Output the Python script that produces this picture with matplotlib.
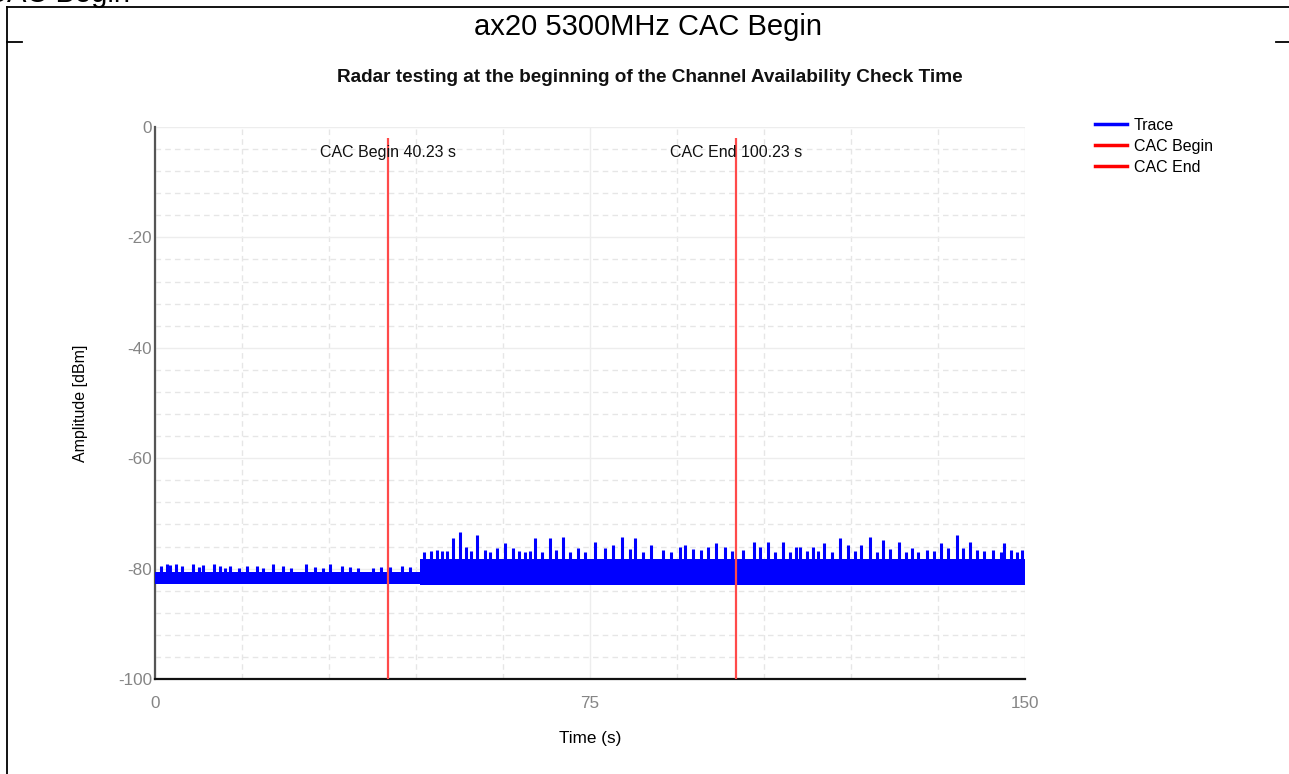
import matplotlib

matplotlib.use("Agg")
import matplotlib.pyplot as plt
from matplotlib.lines import Line2D
from matplotlib.ticker import MultipleLocator

plt.rcParams["font.family"] = ["Liberation Sans", "DejaVu Sans"]
plt.rcParams["axes.unicode_minus"] = False

# values
cac_begin = 40.23
cac_end = 100.23

# dense body of the trace (step levels, dBm)
body_t = [0.0, 45.7, 150.0]
body_top = [-80.6, -78.2, -78.2]
body_low = [-82.8, -83.0, -83.0]

# individual spikes above the body: (time s, peak dBm)
spike_t = [
    1.0, 2.0, 2.6, 3.7, 4.6, 6.6, 7.5, 8.3, 10.1, 11.2, 12.0, 13.0, 14.5, 15.8,
    17.5, 18.6, 20.4, 22.1, 23.5, 26.1, 27.5, 29.0, 30.2, 32.2, 33.6, 35.0,
    37.5, 39.0, 40.5, 42.5, 43.9,
    46.3, 47.5, 48.6, 49.4, 50.3, 51.4, 52.5, 53.7, 54.5, 55.6, 56.9, 57.8,
    58.9, 60.3, 61.8, 62.8, 63.8, 64.6, 65.5, 66.7, 68.1, 69.2, 70.4, 71.6,
    73.0, 74.2, 75.9, 77.6, 79.0, 80.6, 81.9, 82.8, 84.2, 85.6, 87.5, 88.9,
    90.5, 91.4, 92.8, 94.2, 95.4, 96.8, 98.3, 99.5, 101.4, 103.2, 104.3, 105.7,
    106.9, 108.2, 109.4, 110.5, 111.2, 112.4, 113.5, 114.3, 115.3, 116.7, 118.1,
    119.5, 120.7, 121.8, 123.2, 124.4, 125.5, 126.8, 128.2, 129.4, 130.5, 131.6,
    133.1, 134.3, 135.5, 136.8, 138.2, 139.3, 140.5, 141.7, 143.0, 144.5, 145.8,
    146.4, 147.5, 148.6, 149.4,
]
spike_peak = [
    -79.6, -79.2, -79.3, -79.2, -79.6, -79.1, -79.8, -79.4, -79.2, -79.6, -79.9,
    -79.6, -79.9, -79.6, -79.5, -79.9, -79.2, -79.6, -79.9, -79.2, -79.8, -79.9,
    -79.2, -79.6, -79.8, -79.9, -79.9, -79.7, -79.8, -79.5, -79.7,
    -77.0, -76.8, -76.7, -76.9, -76.8, -74.5, -73.3, -76.1, -76.9, -73.9, -76.7,
    -77.0, -76.3, -75.4, -76.3, -76.9, -77.0, -76.8, -74.5, -77.0, -74.5, -76.6,
    -74.3, -77.0, -76.2, -77.0, -75.1, -76.3, -75.7, -74.2, -76.5, -74.5, -77.0,
    -75.7, -76.7, -77.0, -76.0, -75.7, -76.5, -76.6, -76.0, -75.4, -76.0, -76.8,
    -76.6, -75.1, -76.0, -75.1, -77.0, -75.1, -77.0, -76.0, -76.0, -76.8, -76.0,
    -76.8, -75.3, -77.0, -74.5, -75.7, -76.8, -75.7, -74.2, -77.0, -74.8, -76.5,
    -75.1, -77.0, -76.2, -77.0, -76.6, -76.9, -75.4, -76.3, -73.9, -76.3, -75.1,
    -76.6, -76.9, -76.6, -77.0, -75.4, -76.6, -77.0, -76.6,
]

fig = plt.figure(figsize=(12.89, 7.74), dpi=100)
ax = fig.add_axes([155 / 1289, 95 / 774, 870 / 1289, 552 / 774])

# trace
ax.fill_between(body_t, body_low, body_top, step="post", color="#0000ff", lw=0, zorder=3)
ax.vlines(spike_t, -82.0, spike_peak, color="#0000ff", lw=2.2, zorder=3)

# CAC markers
for t, label in [(cac_begin, "CAC Begin"), (cac_end, "CAC End")]:
    ax.vlines(t, -100, -2, color="#ff4a4a", lw=1.6, zorder=4)
    ax.text(t, -4.7, f"{label} {t:.2f} s", ha="center", va="center",
            fontsize=11.5, color="#111111", zorder=5)

ax.set_xlim(0, 150)
ax.set_ylim(-100, 0)
ax.xaxis.set_major_locator(MultipleLocator(75))
ax.xaxis.set_minor_locator(MultipleLocator(15))
ax.yaxis.set_major_locator(MultipleLocator(20))
ax.yaxis.set_minor_locator(MultipleLocator(4))
ax.grid(which="major", color="#ededed", lw=1.0, zorder=0)
ax.grid(which="minor", color="#e6e6e6", lw=1.0, ls=(0, (4, 3)), zorder=0)
ax.set_axisbelow(True)
ax.tick_params(which="both", length=0, labelsize=12.3, labelcolor="#858585")
ax.tick_params(axis="x", pad=12)
ax.tick_params(axis="y", pad=2)

for side in ["top", "right"]:
    ax.spines[side].set_visible(False)
ax.spines["left"].set_color("#555555")
ax.spines["left"].set_linewidth(1.6)
ax.spines["bottom"].set_color("#111111")
ax.spines["bottom"].set_linewidth(1.6)

ax.set_xlabel("Time (s)", fontsize=12.3, va="center")
ax.xaxis.set_label_coords(0.5, -0.107)
ax.set_ylabel("Amplitude [dBm]", fontsize=11.5, va="center")
ax.yaxis.set_label_coords(-0.0862, 0.5)

fig.text(649.5 / 1289, 1 - 77 / 774, "Radar testing at the beginning of the Channel Availability Check Time",
         ha="center", va="center", fontsize=13.7, fontweight="bold", color="#111111")

handles = [
    Line2D([], [], color="#0000ff", lw=2.5),
    Line2D([], [], color="#ff0000", lw=2.5),
    Line2D([], [], color="#ff0000", lw=2.5),
]
fig.legend(handles, ["Trace", "CAC Begin", "CAC End"], loc="upper left",
           bbox_to_anchor=(1093 / 1289, 1 - 116 / 774), frameon=False,
           fontsize=11.5, handlelength=2.0, handletextpad=0.45, labelspacing=0.38,
           borderaxespad=0, borderpad=0.1)

# document frame around the chart image
fig.text(648.5 / 1289, 1 - 27 / 774, "ax20 5300MHz CAC Begin", ha="center", va="center",
         fontsize=21, color="black")
fig.text(130 / 1289, 1 - 2 / 774, "CAC Begin", ha="right", va="baseline",
         fontsize=21, color="black")
frame = dict(color="black", lw=1.3, transform=fig.transFigure)
fig.add_artist(Line2D([7 / 1289, 1.0], [1 - 7 / 774, 1 - 7 / 774], **frame))
fig.add_artist(Line2D([7 / 1289, 7 / 1289], [0.0, 1 - 7 / 774], **frame))
fig.add_artist(Line2D([7 / 1289, 22 / 1289], [1 - 42 / 774, 1 - 42 / 774], **frame))
fig.add_artist(Line2D([1276 / 1289, 1.0], [1 - 42 / 774, 1 - 42 / 774], **frame))

fig.savefig("out.png", dpi=100)
